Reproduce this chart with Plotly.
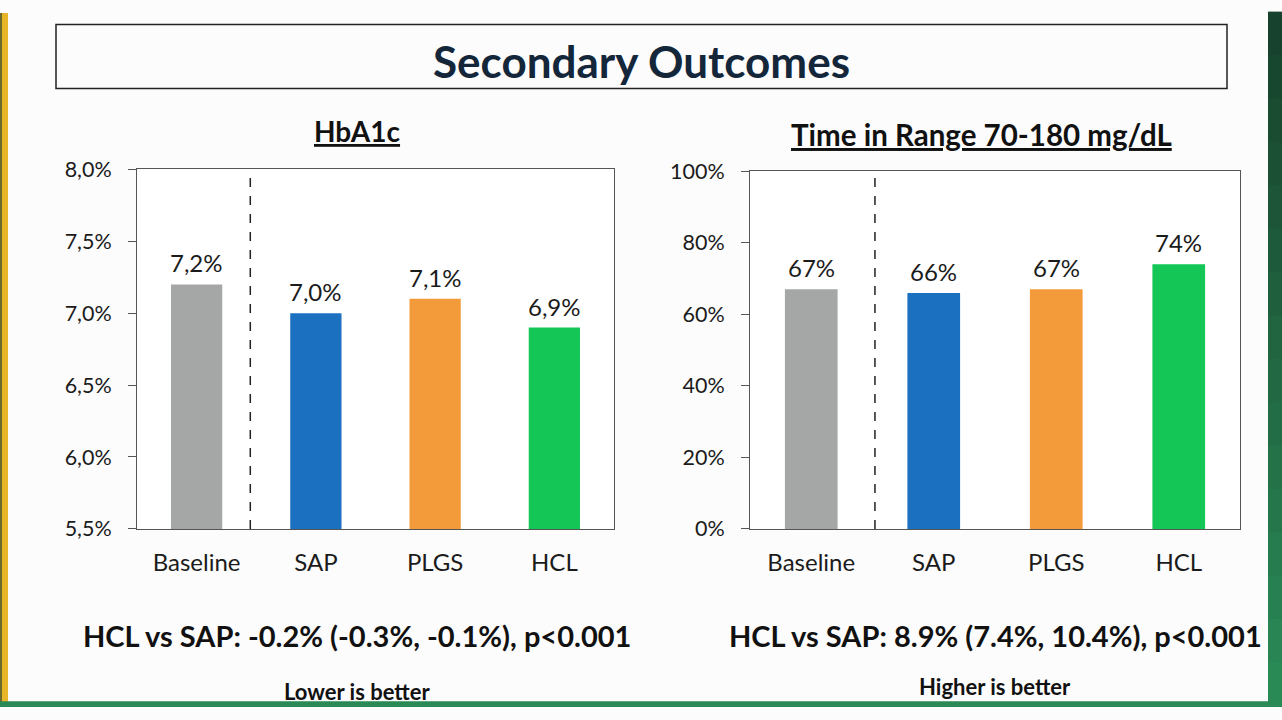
import plotly.graph_objects as go

W, H = 1282, 720

categories = ["Baseline", "SAP", "PLGS", "HCL"]
bar_colors = ["#a5a6a6", "#1c70c0", "#f39b3a", "#13c655"]

hba1c_values = [7.2, 7.0, 7.1, 6.9]
hba1c_ticks = [5.5, 6.0, 6.5, 7.0, 7.5, 8.0]

tir_values = [67, 66, 67, 74]
tir_ticks = [0, 20, 40, 60, 80, 100]

title_text = "Secondary Outcomes"
left_title = "HbA1c"
right_title = "Time in Range 70-180 mg/dL"
left_stat = "HCL vs SAP: -0.2% (-0.3%, -0.1%), p<0.001"
right_stat = "HCL vs SAP: 8.9% (7.4%, 10.4%), p<0.001"
left_note = "Lower is better"
right_note = "Higher is better"

FONT = "Lato, Carlito, 'Open Sans', sans-serif"
DARK = "#1b1b1b"

# the photographed page comes out squeezed a little vertically, so the
# positions read off the reference are mapped back before use
Y_OFF, Y_SCALE = 13.5, 0.965


def px(x):
    return x / W


def py(y):
    return 1 - ((y - Y_OFF) / Y_SCALE) / H


def comma_pct(v, dec):
    return f"{v:.{dec}f}%".replace(".", ",")


fig = go.Figure()

fig.add_trace(go.Bar(
    x=categories, y=hba1c_values,
    marker=dict(color=bar_colors, line=dict(width=0)),
    xaxis="x", yaxis="y", showlegend=False, hoverinfo="x+y",
))
fig.add_trace(go.Bar(
    x=categories, y=tir_values,
    marker=dict(color=bar_colors, line=dict(width=0)),
    xaxis="x2", yaxis="y2", showlegend=False, hoverinfo="x+y",
))

axis_common = dict(
    showline=True, linecolor="#555555", linewidth=1, mirror=True,
    showgrid=False, zeroline=False, fixedrange=True,
)
xfont = dict(size=24, color=DARK, family=FONT)
yfont = dict(size=21.5, color=DARK, family=FONT)

fig.update_layout(
    width=W, height=H,
    margin=dict(l=0, r=0, t=0, b=0),
    paper_bgcolor="#fcfcfc", plot_bgcolor="#ffffff",
    bargap=0.57,
    font=dict(family=FONT, color=DARK),
    xaxis=dict(domain=[px(137), px(614)], anchor="y", ticks="",
               ticklabelstandoff=12, tickfont=xfont, **axis_common),
    yaxis=dict(domain=[py(530), py(170)], anchor="x", range=[5.5, 8.0],
               tickvals=hba1c_ticks,
               ticktext=[comma_pct(v, 1) for v in hba1c_ticks],
               ticks="outside", ticklen=8, tickcolor="#555555",
               ticklabelstandoff=12, tickfont=yfont, **axis_common),
    xaxis2=dict(domain=[px(750), px(1240)], anchor="y2", ticks="",
                ticklabelstandoff=12, tickfont=xfont, **axis_common),
    yaxis2=dict(domain=[py(530), py(172)], anchor="x2", range=[0, 100],
                tickvals=tir_ticks,
                ticktext=[f"{v}%" for v in tir_ticks],
                ticks="outside", ticklen=8, tickcolor="#555555",
                ticklabelstandoff=12, tickfont=yfont, **axis_common),
)

shapes = [
    # yellow left edge
    dict(type="rect", xref="paper", yref="paper", x0=0, x1=px(8), y0=0, y1=1,
         fillcolor="#e8b52a", line=dict(width=0), layer="above"),
    dict(type="rect", xref="paper", yref="paper", x0=0, x1=px(2), y0=0, y1=1,
         fillcolor="#6b6a2a", line=dict(width=0), layer="above"),
    # green bottom edge
    dict(type="rect", xref="paper", yref="paper", x0=0, x1=1, y0=0, y1=6 / H,
         fillcolor="#2a8a55", line=dict(width=0), layer="above"),
    # title box
    dict(type="rect", xref="paper", yref="paper", x0=px(56), x1=px(1227),
         y0=py(89), y1=py(25), line=dict(color="#222222", width=1.5),
         fillcolor="rgba(0,0,0,0)"),
    # dashed separators
    dict(type="line", xref="x", yref="y domain", x0=0.45, x1=0.45, y0=0, y1=1,
         line=dict(color="#222222", width=1.5, dash="dash")),
    dict(type="line", xref="x2", yref="y2 domain", x0=0.52, x1=0.52, y0=0, y1=1,
         line=dict(color="#222222", width=1.5, dash="dash")),
]

# green right edge: dark at the top, lighter further down (drawn in bands)
top_rgb, bot_rgb = (23, 66, 45), (42, 138, 86)
n_bands = 16
for i in range(n_bands):
    t = i / (n_bands - 1)
    rgb = tuple(round(a + (b - a) * t) for a, b in zip(top_rgb, bot_rgb))
    shapes.append(dict(
        type="rect", xref="paper", yref="paper", x0=px(1268), x1=1,
        y0=1 - (i + 1) / n_bands, y1=1 - i / n_bands + 0.002,
        fillcolor="rgb(%d,%d,%d)" % rgb, line=dict(width=0), layer="above"))
fig.update_layout(shapes=shapes)

annotations = [
    dict(text=f"<b>{title_text}</b>", x=px(641), y=py(62),
         font=dict(size=44, color="#14263a")),
    dict(text=f"<b><u>{left_title}</u></b>", x=px(357), y=py(132),
         font=dict(size=28, color="#111111")),
    dict(text=f"<b><u>{right_title}</u></b>", x=px(981), y=py(135),
         font=dict(size=29.5, color="#111111")),
    dict(text=f"<b>{left_stat}</b>", x=px(357), y=py(637),
         font=dict(size=29, color="#111111")),
    dict(text=f"<b>{right_stat}</b>", x=px(995), y=py(637),
         font=dict(size=29, color="#111111")),
    dict(text=f"<b>{left_note}</b>", x=px(357), y=py(693),
         font=dict(size=22, color="#111111")),
    dict(text=f"<b>{right_note}</b>", x=px(995), y=py(688),
         font=dict(size=22, color="#111111")),
]
for a in annotations:
    a.update(xref="paper", yref="paper", showarrow=False,
             xanchor="center", yanchor="middle")
    a["font"]["family"] = FONT

# value labels sit on the bars, placed in data coordinates
for cat, v in zip(categories, hba1c_values):
    annotations.append(dict(
        x=cat, y=v, xref="x", yref="y", text=comma_pct(v, 1),
        showarrow=False, yanchor="bottom", yshift=5,
        font=dict(size=24, color=DARK, family=FONT)))
for cat, v in zip(categories, tir_values):
    annotations.append(dict(
        x=cat, y=v, xref="x2", yref="y2", text=f"{v}%",
        showarrow=False, yanchor="bottom", yshift=5,
        font=dict(size=24, color=DARK, family=FONT)))
fig.update_layout(annotations=annotations)

pin_plot = (
    "document.body.style.margin='0';"
    "document.body.style.overflow='hidden';"
    "var d=document.getElementById('{plot_id}');"
    "d.style.position='fixed';d.style.top='0px';d.style.left='0px';"
)
fig.write_html("out.html", config={"displayModeBar": False}, post_script=pin_plot)
